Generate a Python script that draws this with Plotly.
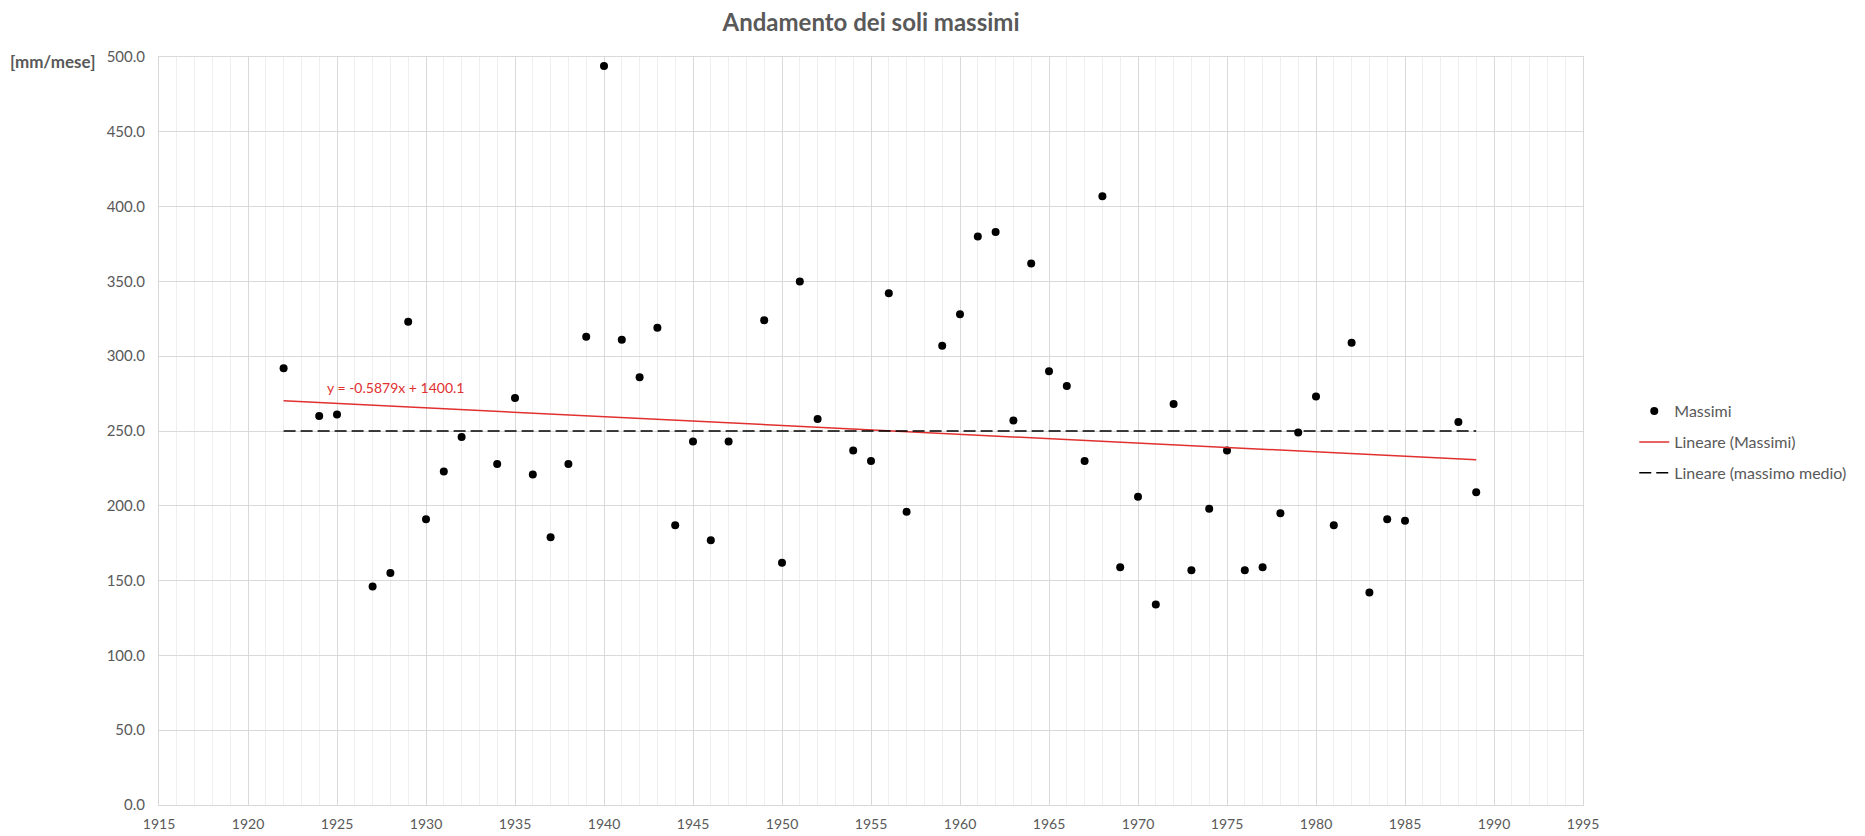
import plotly.graph_objects as go

# annual maxima [mm/mese]
anni = [1922, 1924, 1925, 1927, 1928, 1929, 1930, 1931, 1932, 1934, 1935, 1936, 1937, 1938, 1939,
        1940, 1941, 1942, 1943, 1944, 1945, 1946, 1947, 1949, 1950, 1951, 1952, 1954, 1955, 1956,
        1957, 1959, 1960, 1961, 1962, 1963, 1964, 1965, 1966, 1967, 1968, 1969, 1970, 1971, 1972,
        1973, 1974, 1975, 1976, 1977, 1978, 1979, 1980, 1981, 1982, 1983, 1984, 1985, 1988, 1989]
massimi = [292, 260, 261, 146, 155, 323, 191, 223, 246, 228, 272, 221, 179, 228, 313,
           494, 311, 286, 319, 187, 243, 177, 243, 324, 162, 350, 258, 237, 230, 342,
           196, 307, 328, 380, 383, 257, 362, 290, 280, 230, 407, 159, 206, 134, 268,
           157, 198, 237, 157, 159, 195, 249, 273, 187, 309, 142, 191, 190, 256, 209]

# trend line as written on the chart
pendenza = -0.5879
intercetta = 1400.1
trend_x = [anni[0], anni[-1]]
trend_y = [pendenza * x + intercetta for x in trend_x]

massimo_medio = 250.0
medio_x = [anni[0], anni[-1]]
medio_y = [massimo_medio, massimo_medio]

grigio = '#595959'
font_name = 'Lato, Open Sans, sans-serif'

fig = go.Figure()
fig.add_trace(go.Scatter(x=anni, y=massimi, mode='markers', name='Massimi', legendgroup='a',
                         marker=dict(color='black', size=8)))
fig.add_trace(go.Scatter(x=trend_x, y=trend_y, mode='lines', name='Lineare (Massimi)', legendgroup='b',
                         line=dict(color='#e0302f', width=1.5)))
fig.add_trace(go.Scatter(x=medio_x, y=medio_y, mode='lines', name='Lineare (massimo medio)', legendgroup='c',
                         line=dict(color='black', width=1.5, dash='12px,5px')))

fig.add_annotation(x=1928.3, y=279, text='y = -0.5879x + 1400.1', showarrow=False,
                   font=dict(color='#e0302f', size=14, family=font_name))
fig.add_annotation(xref='paper', yref='y', x=-0.0437, y=497, xanchor='right', yanchor='middle',
                   text='<b>[mm/mese]</b>', showarrow=False,
                   font=dict(color=grigio, size=17, family=font_name))

# page body has an 8px margin, so the figure is a bit smaller than the window
fig.update_layout(
    width=1857, height=828,
    autosize=False,
    paper_bgcolor='white', plot_bgcolor='white',
    margin=dict(l=151, r=282, t=49, b=31, autoexpand=False),
    title=dict(text='<b>Andamento dei soli massimi</b>', x=0.5, xref='paper', y=0.982, yanchor='middle',
               font=dict(size=24, color=grigio, family=font_name)),
    font=dict(family=font_name, color=grigio, size=14),
    legend=dict(x=1.036, y=0.485, xanchor='left', yanchor='middle', traceorder='grouped',
                tracegroupgap=7, font=dict(size=16, color=grigio)),
    showlegend=True,
)
fig.update_xaxes(range=[1915, 1995], dtick=5, tick0=1915, showgrid=True, gridcolor='#d9d9d9',
                 minor=dict(dtick=1, showgrid=True, gridcolor='#efefef'),
                 showline=True, mirror=True, linecolor='#d9d9d9', zeroline=False, automargin=False,
                 tickfont=dict(size=14, color=grigio), ticks='', ticklabelstandoff=6)
fig.update_yaxes(range=[0, 500], dtick=50, tickformat='.1f', showgrid=True, gridcolor='#d9d9d9',
                 showline=True, mirror=True, linecolor='#d9d9d9', zeroline=False, automargin=False,
                 tickfont=dict(size=15, color=grigio), ticks='', ticklabelstandoff=10)

fig.write_html("out.html")
